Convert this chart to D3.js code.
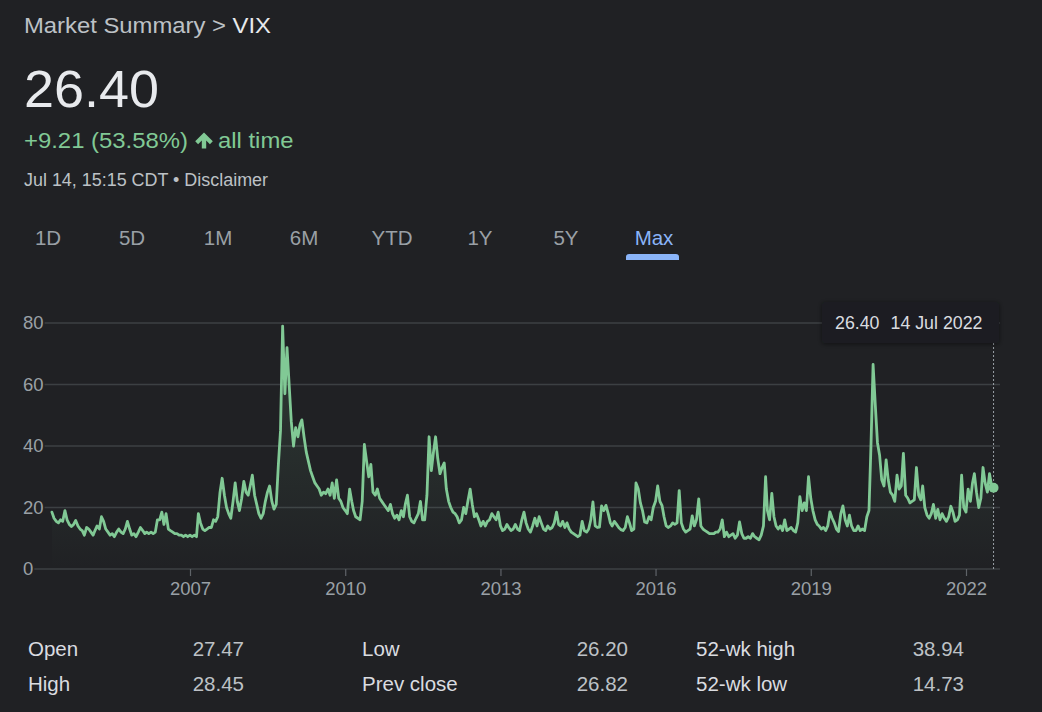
<!DOCTYPE html>
<html>
<head>
<meta charset="utf-8">
<script src="https://cdn.jsdelivr.net/npm/d3@7/dist/d3.min.js"></script>
<style>
  html, body { margin: 0; padding: 0; background: #202124; }
  svg { display: block; }
  text { font-family: "Liberation Sans", Arial, sans-serif; }
</style>
</head>
<body>
<svg id="chart" width="1042" height="712"></svg>
<script>
// ---- Data (semi-monthly closes: 1st and 16th of each month) ----
const v2004 = [18.5, 16.5, 15.5, 15, 16, 15.5, 19, 16, 14.5, 13.8, 14.5, 15.8, 14, 13, 12.5, 11]; // from May
const v2005 = [13.5, 13, 12, 11, 12.5, 14, 13, 17, 15.5, 13, 12, 11, 11.5, 10.5, 12, 13, 12, 11.5, 13, 15.5, 13, 11, 11.5, 10.5];
const v2006 = [12, 13.5, 12.5, 11.5, 12, 11.5, 12, 11.5, 12, 16, 16, 18.5, 14.5, 18, 13, 12.5, 12, 11.5, 11.5, 11, 11, 10.5, 11, 10.5];
const v2007 = [11, 10.5, 11, 10.5, 18, 15, 13, 12.5, 13, 13.5, 13.5, 16, 15.5, 17, 25, 29.5, 24, 20, 18, 16.5, 22, 28, 22, 19];
const v2008 = [23, 28.5, 25, 24, 27, 30.5, 24, 21, 18, 16.5, 18, 22, 25, 27, 22, 19.5, 21, 34, 45, 79, 57, 72, 60, 48];
const v2009 = [40, 46, 43, 47, 48.5, 43, 38, 35, 32, 30, 28, 27, 26, 24, 25, 24.5, 26, 24, 28, 23, 29, 23, 22, 20];
const v2010 = [19, 18, 26, 22, 19, 17, 16.5, 16, 22, 40.5, 35, 30, 34, 25, 24, 26, 23, 22, 21, 20, 19, 21, 18, 16.5];
const v2011 = [17.5, 16, 19, 17, 21, 24, 17, 15.5, 15, 16.5, 18, 22, 16, 16, 24, 43, 32, 38, 43, 36, 31, 33, 34.5, 26];
const v2012 = [22, 20, 18.5, 18, 17, 15, 16, 20, 18, 22, 26, 21, 17, 18, 16, 14, 15.5, 14, 15.5, 16, 18, 17, 16, 18.5];
const v2013 = [14, 12.5, 13, 14.5, 13.5, 12.5, 13, 14.5, 13, 12.5, 16, 18.5, 15, 13, 12, 14, 16.5, 14, 17, 15, 13, 12.5, 14, 13];
const v2014 = [13.5, 15, 18.5, 14.5, 14, 15.5, 13.5, 15, 13, 12, 11.5, 11, 10.5, 11, 15.5, 12.5, 12, 13, 16, 21.8, 14, 13.5, 13.6, 20.5];
const v2015 = [19, 20.7, 18, 15, 14, 15.5, 14.5, 13.5, 12.8, 12.5, 13.5, 17, 15, 12.5, 13, 28, 26, 21.5, 19, 15.3, 15, 17, 16, 20];
const v2016 = [22, 27, 22, 20.6, 17, 14, 13.5, 14, 15, 14.5, 15, 25.5, 15, 13, 12, 12.5, 13, 17.3, 14, 16, 22.8, 14, 13, 12.5];
const v2017 = [12, 11.5, 11.5, 11.5, 12, 12, 13, 16, 10.5, 12, 10.5, 11, 11.5, 10, 11, 15.3, 11.5, 10, 10, 10.5, 10, 11.5, 10.5, 10];
const v2018 = [9.5, 11, 14, 30, 19, 16, 24.6, 17, 14, 13, 14, 12.5, 16, 12.5, 13, 13.5, 12.5, 12, 15, 23.5, 19, 21.5, 19, 30];
const v2019 = [23, 19, 16, 14.5, 14, 13, 13.5, 12.5, 14, 18.6, 16.5, 15, 13, 12.2, 18, 20.5, 16, 14, 17.5, 14, 12.5, 12.5, 14, 12.5];
const v2020 = [13, 12.5, 17, 19, 40, 66.5, 53, 41, 37, 29, 27, 35.5, 29, 25, 24, 22, 30.5, 26, 27, 37.6, 24, 23, 21.5, 22];
const v2021 = [22.5, 33, 24, 22.5, 27, 20, 17.5, 16.5, 18, 21, 16.5, 19.4, 16, 18, 16.5, 15.5, 17, 20.4, 18.5, 15.5, 16, 17.5, 30.5, 20];
const v2022 = [18.5, 26, 22, 28, 31, 25, 20, 23, 33, 28, 25, 31, 27]; // to Jul 1
const lastDate = "2022-07-14";
const lastValue = 26.40;

const yearSeries = [
  [2004, 4, v2004], [2005, 0, v2005], [2006, 0, v2006], [2007, 0, v2007], [2008, 0, v2008],
  [2009, 0, v2009], [2010, 0, v2010], [2011, 0, v2011], [2012, 0, v2012], [2013, 0, v2013],
  [2014, 0, v2014], [2015, 0, v2015], [2016, 0, v2016], [2017, 0, v2017], [2018, 0, v2018],
  [2019, 0, v2019], [2020, 0, v2020], [2021, 0, v2021], [2022, 0, v2022]
];

const yTicks = [0, 20, 40, 60, 80];
const xTickYears = ["2007", "2010", "2013", "2016", "2019", "2022"];
const tabLabels = ["1D", "5D", "1M", "6M", "YTD", "1Y", "5Y", "Max"];
const activeTab = "Max";
const statLabels = [["Open", "High"], ["Low", "Prev close"], ["52-wk high", "52-wk low"]];
const statValues = [["27.47", "28.45"], ["26.20", "26.82"], ["38.94", "14.73"]];

// ---- Layout constants ----
const tabCenters = [48, 132, 218, 304, 392, 480, 566, 654];

// ---- Build points ----
const data = [];
yearSeries.forEach(([yr, m0, vals]) => {
  vals.forEach((v, i) => {
    const month = m0 + Math.floor(i / 2);
    const day = i % 2 === 0 ? 1 : 16;
    data.push({ date: new Date(yr, month, day), value: v });
  });
});
data.push({ date: new Date(lastDate + "T12:00:00"), value: lastValue });

const svg = d3.select("#chart");

// ---- Header ----
const head = svg.append("text").attr("x", 24).attr("y", 33).attr("font-size", 22.5)
  .attr("textLength", 247).attr("lengthAdjust", "spacingAndGlyphs");
head.append("tspan").attr("fill", "#bdc1c6").text("Market Summary > ");
head.append("tspan").attr("fill", "#e8eaed").text("VIX");

svg.append("text").attr("x", 24).attr("y", 107).attr("font-size", 52.5)
  .attr("textLength", 135).attr("lengthAdjust", "spacingAndGlyphs")
  .attr("fill", "#e8eaed").text("26.40");

svg.append("text").attr("x", 24).attr("y", 148).attr("font-size", 21.3).attr("fill", "#81c995")
  .attr("textLength", 164).attr("lengthAdjust", "spacingAndGlyphs")
  .text("+9.21 (53.58%)");
// bold up-arrow icon
svg.append("path")
  .attr("d", "M204,132.5 L212.8,141.3 L209.9,144.2 L206.2,140.5 L206.2,148.5 L201.8,148.5 L201.8,140.5 L198.1,144.2 L195.2,141.3 Z")
  .attr("fill", "#81c995");
svg.append("text").attr("x", 218).attr("y", 148).attr("font-size", 21.3).attr("fill", "#81c995")
  .attr("textLength", 75.5).attr("lengthAdjust", "spacingAndGlyphs")
  .text("all time");

svg.append("text").attr("x", 24).attr("y", 186).attr("font-size", 17.5)
  .attr("textLength", 244).attr("lengthAdjust", "spacingAndGlyphs")
  .attr("fill", "#bdc1c6").text("Jul 14, 15:15 CDT \u2022 Disclaimer");

// ---- Tabs ----
const tabX = d3.scaleOrdinal().domain(tabLabels).range(tabCenters);
svg.append("g").selectAll("text").data(tabLabels).join("text")
  .attr("x", d => tabX(d)).attr("y", 245).attr("text-anchor", "middle")
  .attr("font-size", 20.5)
  .attr("fill", d => d === activeTab ? "#8ab4f8" : "#9aa0a6")
  .text(d => d);
const ax = tabX(activeTab);
svg.append("path")
  .attr("d", `M${ax - 28},260 L${ax - 28},257 Q${ax - 28},254 ${ax - 25},254 L${ax + 22},254 Q${ax + 25},254 ${ax + 25},257 L${ax + 25},260 Z`)
  .attr("fill", "#8ab4f8");

// ---- Scales ----
const x = d3.scaleTime()
  .domain([new Date(2007, 0, 1), new Date(2022, 0, 1)])
  .range([190, 966]);
const y = d3.scaleLinear().domain([0, 80]).range([569, 323]);
const gridRight = 1000;

// ---- Y grid + labels ----
const yg = svg.append("g");
yTicks.forEach(t => {
  const lbl = yg.append("text").attr("x", 23).attr("y", y(t)).attr("dy", "0.35em")
    .attr("font-size", 18.5).attr("fill", "#9aa0a6").text(t);
  const w = lbl.node().getComputedTextLength();
  yg.append("line").attr("x1", 23 + w + 1).attr("x2", gridRight)
    .attr("y1", y(t)).attr("y2", y(t))
    .attr("stroke", "#3c4043").attr("stroke-width", 1.5);
});

// ---- X axis ----
const xAxis = d3.axisBottom(x)
  .tickValues(xTickYears.map(s => new Date(+s, 0, 1)))
  .tickFormat(d3.timeFormat("%Y"))
  .tickSize(7).tickPadding(6);
const xg = svg.append("g").attr("transform", "translate(0,569)").call(xAxis);
xg.select(".domain").remove();
xg.selectAll(".tick line").attr("stroke", "#5f6368").attr("stroke-width", 1.2);
xg.selectAll(".tick text").attr("fill", "#9aa0a6").attr("font-size", 18.5)
  .attr("font-family", '"Liberation Sans", Arial, sans-serif');

// ---- Area + line ----
const defs = svg.append("defs");
const grad = defs.append("linearGradient").attr("id", "areaGrad")
  .attr("gradientUnits", "userSpaceOnUse")
  .attr("x1", 0).attr("x2", 0).attr("y1", y(80)).attr("y2", y(0));
grad.append("stop").attr("offset", "0%").attr("stop-color", "#81c995").attr("stop-opacity", 0.16);
grad.append("stop").attr("offset", "100%").attr("stop-color", "#81c995").attr("stop-opacity", 0);

const shadow = defs.append("filter").attr("id", "tipShadow").attr("x", "-20%").attr("y", "-40%").attr("width", "140%").attr("height", "180%");
shadow.append("feDropShadow").attr("dx", 0).attr("dy", 1).attr("stdDeviation", 2.5)
  .attr("flood-color", "#000").attr("flood-opacity", 0.5);

svg.append("path").datum(data)
  .attr("d", d3.area().x(d => x(d.date)).y0(y(0)).y1(d => y(d.value)))
  .attr("fill", "url(#areaGrad)");

svg.append("path").datum(data)
  .attr("d", d3.line().x(d => x(d.date)).y(d => y(d.value)))
  .attr("fill", "none").attr("stroke", "#81c995").attr("stroke-width", 2.8)
  .attr("stroke-linejoin", "round").attr("stroke-linecap", "round");

// ---- Hover marker + tooltip ----
const last = data[data.length - 1];
const lx = x(last.date);
svg.append("line").attr("x1", lx).attr("x2", lx).attr("y1", 343).attr("y2", y(0))
  .attr("stroke", "#9aa0a6").attr("stroke-width", 1).attr("stroke-dasharray", "2,2");
svg.append("circle").attr("cx", lx).attr("cy", y(last.value)).attr("r", 5)
  .attr("fill", "#81c995");

svg.append("rect").attr("x", 822).attr("y", 302).attr("width", 177).attr("height", 41)
  .attr("rx", 2).attr("fill", "#1c1d20").attr("filter", "url(#tipShadow)");
const tip = svg.append("text").attr("x", 835).attr("y", 329).attr("font-size", 17.8).attr("fill", "#dadce0");
tip.append("tspan").text(d3.format(".2f")(last.value));
tip.append("tspan").attr("dx", 11).text(d3.timeFormat("%-d %b %Y")(last.date));

// ---- Stats table ----
const colLabelX = [28, 362, 696];
const colValueX = [244, 628, 964];
const rowY = [656, 691];
statLabels.forEach((col, ci) => {
  col.forEach((lbl, ri) => {
    svg.append("text").attr("x", colLabelX[ci]).attr("y", rowY[ri]).attr("font-size", 20.5)
      .attr("fill", "#dadce0").text(lbl);
    svg.append("text").attr("x", colValueX[ci]).attr("y", rowY[ri]).attr("font-size", 20.5)
      .attr("text-anchor", "end").attr("fill", "#bdc1c6").text(statValues[ci][ri]);
  });
});
</script>
</body>
</html>
